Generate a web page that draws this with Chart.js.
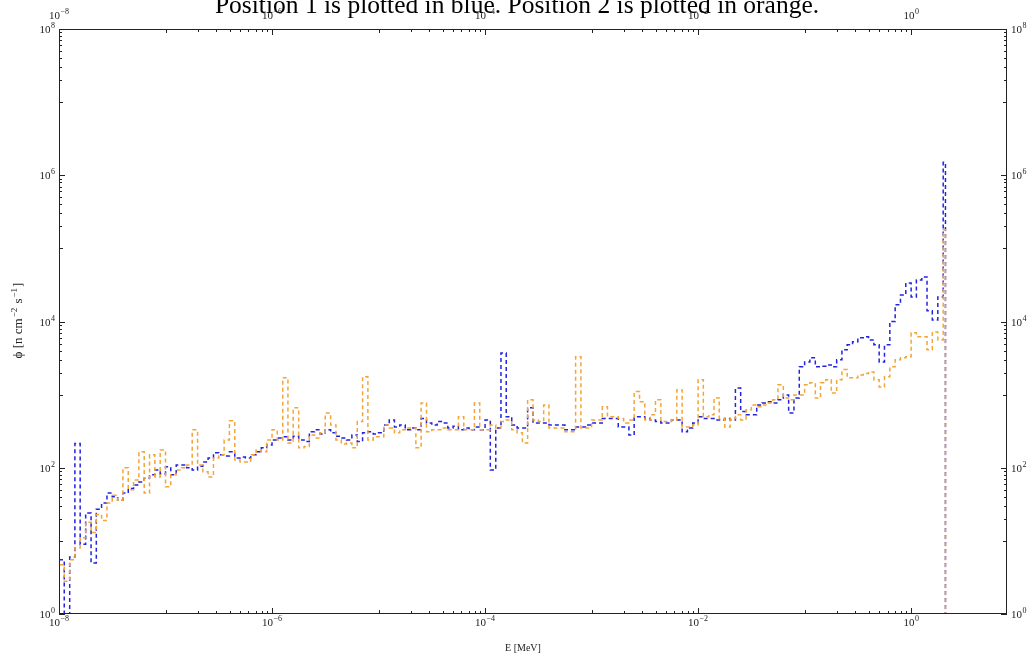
<!DOCTYPE html>
<html>
<head>
<meta charset="utf-8">
<script src="https://cdn.jsdelivr.net/npm/chart.js@4.4.1/dist/chart.umd.min.js"></script>
<style>
  html, body { margin: 0; padding: 0; background: #fff; }
  #plot { display: block; }
</style>
</head>
<body>
<canvas id="plot" width="1033" height="657"></canvas>
<script>
// bin lower edges (MeV): 20 per decade, then the last few bins
var mantissas = [1.00, 1.12, 1.26, 1.41, 1.58, 1.78, 2.00, 2.24, 2.51, 2.82,
                 3.16, 3.55, 3.98, 4.47, 5.01, 5.62, 6.31, 7.08, 7.94, 8.91];
var decades = [1e-8, 1e-7, 1e-6, 1e-5, 1e-4, 1e-3, 1e-2, 1e-1];
var lastEdges = [1.00, 1.12, 1.26, 1.41, 1.58, 1.78, 2.00, 2.10];

// Position 1 (blue), n cm^-2 s^-1
var flux1 = [
  5.5, 0.8, 6, 215, 9, 24, 5, 27, 33, 45, 40, 36, 45, 52, 58, 64, 72, 80, 93, 82,
  103, 80, 109, 109, 100, 93, 105, 120, 136, 160, 150, 145, 165, 136, 140, 136, 150, 165, 187, 205,
  240, 256, 265, 240, 270, 240, 228, 310, 330, 290, 330, 300, 270, 256, 240, 280, 228, 300, 310, 290,
  300, 385, 450, 360, 385, 330, 350, 330, 470, 410, 385, 430, 410, 350, 370, 330, 350, 330, 360, 330,
  450, 93, 350, 3700, 500, 385, 350, 350, 660, 410, 410, 410, 385, 385, 385, 330, 330, 360, 360, 385,
  410, 410, 470, 470, 470, 360, 360, 280, 500, 500, 470, 450, 430, 410, 410, 450, 450, 310, 350, 410,
  500, 470, 470, 450, 450, 470, 450, 1230, 590, 530, 530, 720, 770, 800, 770, 850, 990, 560, 900, 2400,
  2800, 3200, 2400, 2450, 2550, 2400, 3000, 4100, 4800, 5300, 6000, 6200, 5600, 4800, 2800, 4800, 10000, 17000, 23000, 33700,
  21700, 37000, 40700, 14000, 10500, 21700, 1.5e6, 0.3
];

// Position 2 (orange)
var flux2 = [
  4.7, 2.8, 5.5, 8, 11, 18, 13, 23, 19, 33, 42, 36, 100, 50, 68, 165, 45, 150, 75, 175,
  55, 80, 93, 100, 109, 330, 109, 88, 75, 136, 150, 240, 440, 128, 120, 120, 150, 175, 165, 240,
  330, 240, 1700, 218, 660, 187, 195, 280, 256, 300, 560, 385, 240, 212, 218, 187, 430, 1750, 240, 265,
  265, 385, 350, 300, 330, 350, 350, 187, 770, 310, 330, 330, 350, 330, 330, 500, 330, 330, 770, 330,
  330, 385, 350, 430, 450, 330, 300, 218, 850, 450, 430, 720, 350, 350, 350, 310, 310, 3300, 350, 350,
  450, 450, 680, 500, 500, 470, 410, 450, 1100, 800, 450, 530, 850, 430, 430, 450, 1160, 360, 360, 385,
  1600, 500, 530, 900, 470, 360, 470, 530, 450, 620, 720, 680, 720, 770, 850, 1360, 900, 850, 990, 990,
  1360, 1450, 900, 1450, 1600, 1050, 1600, 2200, 1700, 1700, 1860, 1950, 2040, 1600, 1270, 1750, 2400, 3000, 3200, 3300,
  7000, 6200, 6200, 4100, 7200, 5600, 1.8e5, 0.3
];

var xLabelExps = [-8, -6, -4, -2, 0];
var yLabelExps = [0, 2, 4, 6, 8];

var energy = [];
decades.forEach(function(d) {
  mantissas.forEach(function(m) { energy.push(m * d); });
});
energy = energy.concat(lastEdges);

function pts(vals) {
  return energy.map(function(e, i) { return { x: e, y: vals[i] }; });
}

var SERIF = '"Liberation Serif", "Times New Roman", "DejaVu Serif", serif';

// "10" with a raised exponent
function drawPow(ctx, exp, x, y, align) {
  var base = '10', sup = (exp < 0 ? '\u2212' : '') + Math.abs(exp);
  ctx.font = '11px ' + SERIF;
  var wb = ctx.measureText(base).width;
  ctx.font = '8px ' + SERIF;
  var ws = ctx.measureText(sup).width;
  var w = wb + ws + 0.5;
  var x0 = align === 'center' ? x - w / 2 : (align === 'right' ? x - w : x);
  ctx.textAlign = 'left';
  ctx.font = '11px ' + SERIF;
  ctx.fillText(base, x0, y);
  ctx.font = '8px ' + SERIF;
  ctx.fillText(sup, x0 + wb + 0.5, y - 5);
}

var framePlugin = {
  id: 'frame',
  afterDraw: function(chart) {
    var ctx = chart.ctx, a = chart.chartArea;
    var xs = chart.scales.x, ys = chart.scales.y;
    ctx.save();
    ctx.strokeStyle = '#222';
    ctx.lineWidth = 1;
    ctx.strokeRect(Math.round(a.left) + 0.5, Math.round(a.top) + 0.5,
                   Math.round(a.right - a.left) - 1, Math.round(a.bottom - a.top) - 1);

    function tick(x1, y1, x2, y2) {
      ctx.beginPath(); ctx.moveTo(x1, y1); ctx.lineTo(x2, y2); ctx.stroke();
    }
    // labelled even decades, minor ticks only in the odd decades
    var e, m, px, len;
    for (e = -8; e <= 0; e++) {
      var odd = (e % 2 !== 0);
      for (m = 1; m <= (odd ? 9 : 1); m++) {
        px = Math.round(xs.getPixelForValue(m * Math.pow(10, e))) + 0.5;
        len = m === 1 ? (odd ? 4 : 6) : 3;
        tick(px, a.bottom, px, a.bottom - len);
        tick(px, a.top, px, a.top + len);
      }
    }
    for (e = 0; e <= 8; e++) {
      var oddY = (e % 2 !== 0);
      for (m = 1; m <= (oddY ? 9 : 1); m++) {
        if (m * Math.pow(10, e) > 1e8) continue;
        px = Math.round(ys.getPixelForValue(m * Math.pow(10, e))) + 0.5;
        len = m === 1 ? (oddY ? 4 : 6) : 3;
        tick(a.left, px, a.left + len, px);
        tick(a.right, px, a.right - len, px);
      }
    }

    ctx.fillStyle = '#222';
    ctx.textBaseline = 'alphabetic';
    xLabelExps.forEach(function(ex) {
      var p = xs.getPixelForValue(Math.pow(10, ex));
      drawPow(ctx, ex, p, a.bottom + 12, 'center');
      drawPow(ctx, ex, p, a.top - 10, 'center');
    });
    yLabelExps.forEach(function(ex) {
      var p = ys.getPixelForValue(Math.pow(10, ex));
      drawPow(ctx, ex, a.left - 4, p + 4, 'right');
      drawPow(ctx, ex, a.right + 4, p + 4, 'left');
    });

    // axis titles
    ctx.font = '10px ' + SERIF;
    ctx.textAlign = 'center';
    ctx.fillText('E [MeV]', 523, 651);

    ctx.save();
    ctx.translate(22, 320);
    ctx.rotate(-Math.PI / 2);
    var parts = [['\u03d5 [n cm', 13, 0], ['\u22122', 9, -5], [' s', 13, 0], ['\u22121', 9, -5], [']', 13, 0]];
    var total = 0;
    parts.forEach(function(p) { ctx.font = p[1] + 'px ' + SERIF; total += ctx.measureText(p[0]).width + 1; });
    var cx = -total / 2;
    ctx.textAlign = 'left';
    parts.forEach(function(p) {
      ctx.font = p[1] + 'px ' + SERIF;
      ctx.fillText(p[0], cx, p[2]);
      cx += ctx.measureText(p[0]).width + 1;
    });
    ctx.restore();

    // title, cut by the top edge as in the original
    ctx.font = '25.5px ' + SERIF;
    ctx.textAlign = 'center';
    ctx.fillStyle = '#000';
    ctx.fillText('Position 1 is plotted in blue. Position 2 is plotted in orange.', 517, 13);
    ctx.restore();
  }
};

function logAxis(pos, min, max, size) {
  return {
    type: 'logarithmic',
    position: pos,
    min: min,
    max: max,
    grid: { display: false },
    border: { display: false },
    ticks: { display: false },
    afterFit: function(s) {
      if (pos === 'top' || pos === 'bottom') s.height = size; else s.width = size;
    }
  };
}

var xMax = Math.pow(10, 0.9);

new Chart(document.getElementById('plot'), {
  type: 'line',
  data: {
    datasets: [
      {
        label: 'Position 2',
        data: pts(flux2),
        stepped: 'before',
        borderColor: 'rgb(243,165,55)',
        borderWidth: 1.5,
        borderDash: [4, 3],
        pointRadius: 0,
        fill: false,
        clip: 0,
        order: 0
      },
      {
        label: 'Position 1',
        data: pts(flux1),
        stepped: 'before',
        borderColor: 'rgb(35,35,225)',
        borderWidth: 1.5,
        borderDash: [4, 3],
        pointRadius: 0,
        fill: false,
        clip: 0,
        order: 1
      }
    ]
  },
  options: {
    responsive: false,
    animation: false,
    parsing: false,
    layout: { padding: 0 },
    plugins: { legend: { display: false }, tooltip: { enabled: false } },
    scales: {
      x: logAxis('bottom', 1e-8, xMax, 43),
      x2: logAxis('top', 1e-8, xMax, 29),
      y: logAxis('left', 1, 1e8, 59),
      y2: logAxis('right', 1, 1e8, 26)
    }
  },
  plugins: [framePlugin]
});
</script>
</body>
</html>
